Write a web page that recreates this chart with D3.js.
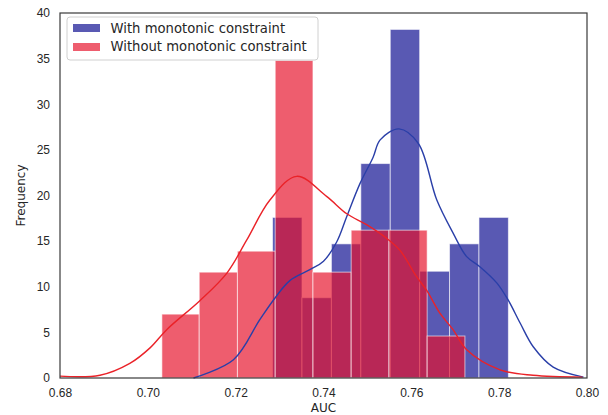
<!DOCTYPE html>
<meta charset="utf-8">
<html>
<head>
<style>
  body { margin: 0; background: #fff; }
  svg { font-family: "DejaVu Sans", sans-serif; }
  .tick text { fill: #262626; font-size: 12px; }
</style>
<script src="https://d3js.org/d3.v7.min.js"></script>
</head>
<body>
<svg width="608" height="415"></svg>
<script>
// bin edges (AUC)
var withEdges = [0.7284, 0.7351, 0.7418, 0.7485, 0.7552, 0.7619, 0.7687, 0.7754, 0.7821];
var withFreq = [17.6, 8.8, 14.7, 23.5, 38.2, 11.7, 14.7, 17.6];
var withoutEdges = [0.7032, 0.7117, 0.7204, 0.7290, 0.7376, 0.7463, 0.7549, 0.7636, 0.7722];
var withoutFreq = [7.0, 11.6, 13.9, 34.8, 11.6, 16.2, 16.2, 4.6];

// kde curves, points
var withKdeX = [0.7104, 0.7195, 0.7255, 0.7290, 0.7324, 0.7370, 0.7400, 0.7430, 0.7453, 0.7483, 0.7513, 0.7529, 0.7572, 0.7616, 0.7658, 0.7696, 0.7726, 0.7756, 0.7795, 0.7821, 0.7848, 0.7878, 0.7923, 0.7992];
var withKdeY = [0, 2.0, 6.4, 8.8, 10.7, 11.9, 12.8, 14.9, 17.7, 21.3, 24.2, 26.1, 27.3, 25.7, 19.5, 15.8, 13.3, 12.2, 10.4, 8.5, 6.0, 3.4, 1.2, 0.1];
var withoutKdeX = [0.6800, 0.6891, 0.6959, 0.7005, 0.7043, 0.7119, 0.7180, 0.7225, 0.7278, 0.7339, 0.7407, 0.7453, 0.7498, 0.7544, 0.7574, 0.7612, 0.7635, 0.7665, 0.7695, 0.7726, 0.7802, 0.7877, 0.7990];
var withoutKdeY = [0.2, 0.3, 1.6, 3.3, 5.3, 8.5, 11.5, 15.1, 19.5, 22.1, 19.9, 18.0, 16.8, 15.3, 14.0, 11.1, 9.6, 7.1, 5.3, 3.1, 0.9, 0.3, 0.1];

var xTicks = [0.68, 0.70, 0.72, 0.74, 0.76, 0.78, 0.80];
var yTicks = [0, 5, 10, 15, 20, 25, 30, 35, 40];
var labels = ["With monotonic constraint", "Without monotonic constraint"];

var svg = d3.select("svg"),
    margin = {left: 60, right: 21, top: 13, bottom: 37},
    width = +svg.attr("width") - margin.left - margin.right,
    height = +svg.attr("height") - margin.top - margin.bottom;

var x = d3.scaleLinear().domain([0.68, 0.80]).range([0, width]),
    y = d3.scaleLinear().domain([0, 40]).range([height, 0]);

var g = svg.append("g")
    .attr("transform", "translate(" + margin.left + "," + margin.top + ")");

var blueFill = "#00008b", blueOp = 0.65,
    redFill = "#e6102a", redOp = 0.68;

function bars(edges, freq, fill, op) {
  g.append("g").selectAll("rect")
    .data(freq)
    .enter().append("rect")
    .attr("x", function(d, i) { return x(edges[i]); })
    .attr("y", function(d) { return y(d); })
    .attr("width", function(d, i) { return x(edges[i + 1]) - x(edges[i]); })
    .attr("height", function(d) { return height - y(d); })
    .attr("fill", fill)
    .attr("fill-opacity", op)
    .attr("stroke", "#fff")
    .attr("stroke-opacity", 0.6)
    .attr("stroke-width", 1);
}

bars(withEdges, withFreq, blueFill, blueOp);
bars(withoutEdges, withoutFreq, redFill, redOp);

var line = d3.line()
    .x(function(d) { return x(d[0]); })
    .y(function(d) { return y(d[1]); })
    .curve(d3.curveCatmullRom);

g.append("path")
  .datum(d3.zip(withKdeX, withKdeY))
  .attr("d", line)
  .attr("fill", "none")
  .attr("stroke", "#2a3fa8")
  .attr("stroke-width", 1.4);

g.append("path")
  .datum(d3.zip(withoutKdeX, withoutKdeY))
  .attr("d", line)
  .attr("fill", "none")
  .attr("stroke", "#ea2228")
  .attr("stroke-width", 1.4);

// axes, no tick marks (seaborn white style)
var xa = g.append("g")
  .attr("transform", "translate(0," + height + ")")
  .call(d3.axisBottom(x).tickValues(xTicks).tickFormat(d3.format(".2f")).tickSize(0).tickPadding(10));
var ya = g.append("g")
  .call(d3.axisLeft(y).tickValues(yTicks).tickSize(0).tickPadding(10));
xa.select(".domain").remove();
ya.select(".domain").remove();

// frame
g.append("rect")
  .attr("width", width)
  .attr("height", height)
  .attr("fill", "none")
  .attr("stroke", "#3a3a3a")
  .attr("stroke-width", 1.2);

svg.append("text")
  .attr("x", margin.left + width / 2)
  .attr("y", 412)
  .attr("text-anchor", "middle")
  .attr("font-size", "12px")
  .attr("fill", "#262626")
  .text("AUC");

svg.append("text")
  .attr("transform", "translate(25," + (margin.top + height / 2) + ") rotate(-90)")
  .attr("text-anchor", "middle")
  .attr("font-size", "12px")
  .attr("fill", "#262626")
  .text("Frequency");

// legend
var lg = svg.append("g").attr("transform", "translate(67,17)");
lg.append("rect")
  .attr("width", 251)
  .attr("height", 43)
  .attr("rx", 3)
  .attr("fill", "#fff")
  .attr("fill-opacity", 0.8)
  .attr("stroke", "#d0d0d0");

var legendColors = [[blueFill, blueOp], [redFill, redOp]];
labels.forEach(function(t, i) {
  lg.append("rect")
    .attr("x", 6)
    .attr("y", 7 + i * 19)
    .attr("width", 27)
    .attr("height", 8)
    .attr("fill", legendColors[i][0])
    .attr("fill-opacity", legendColors[i][1]);
  lg.append("text")
    .attr("x", 43.5)
    .attr("y", 11 + i * 18.5)
    .attr("dy", "0.35em")
    .attr("font-size", "13.2px")
    .attr("fill", "#262626")
    .text(t);
});
</script>
</body>
</html>
